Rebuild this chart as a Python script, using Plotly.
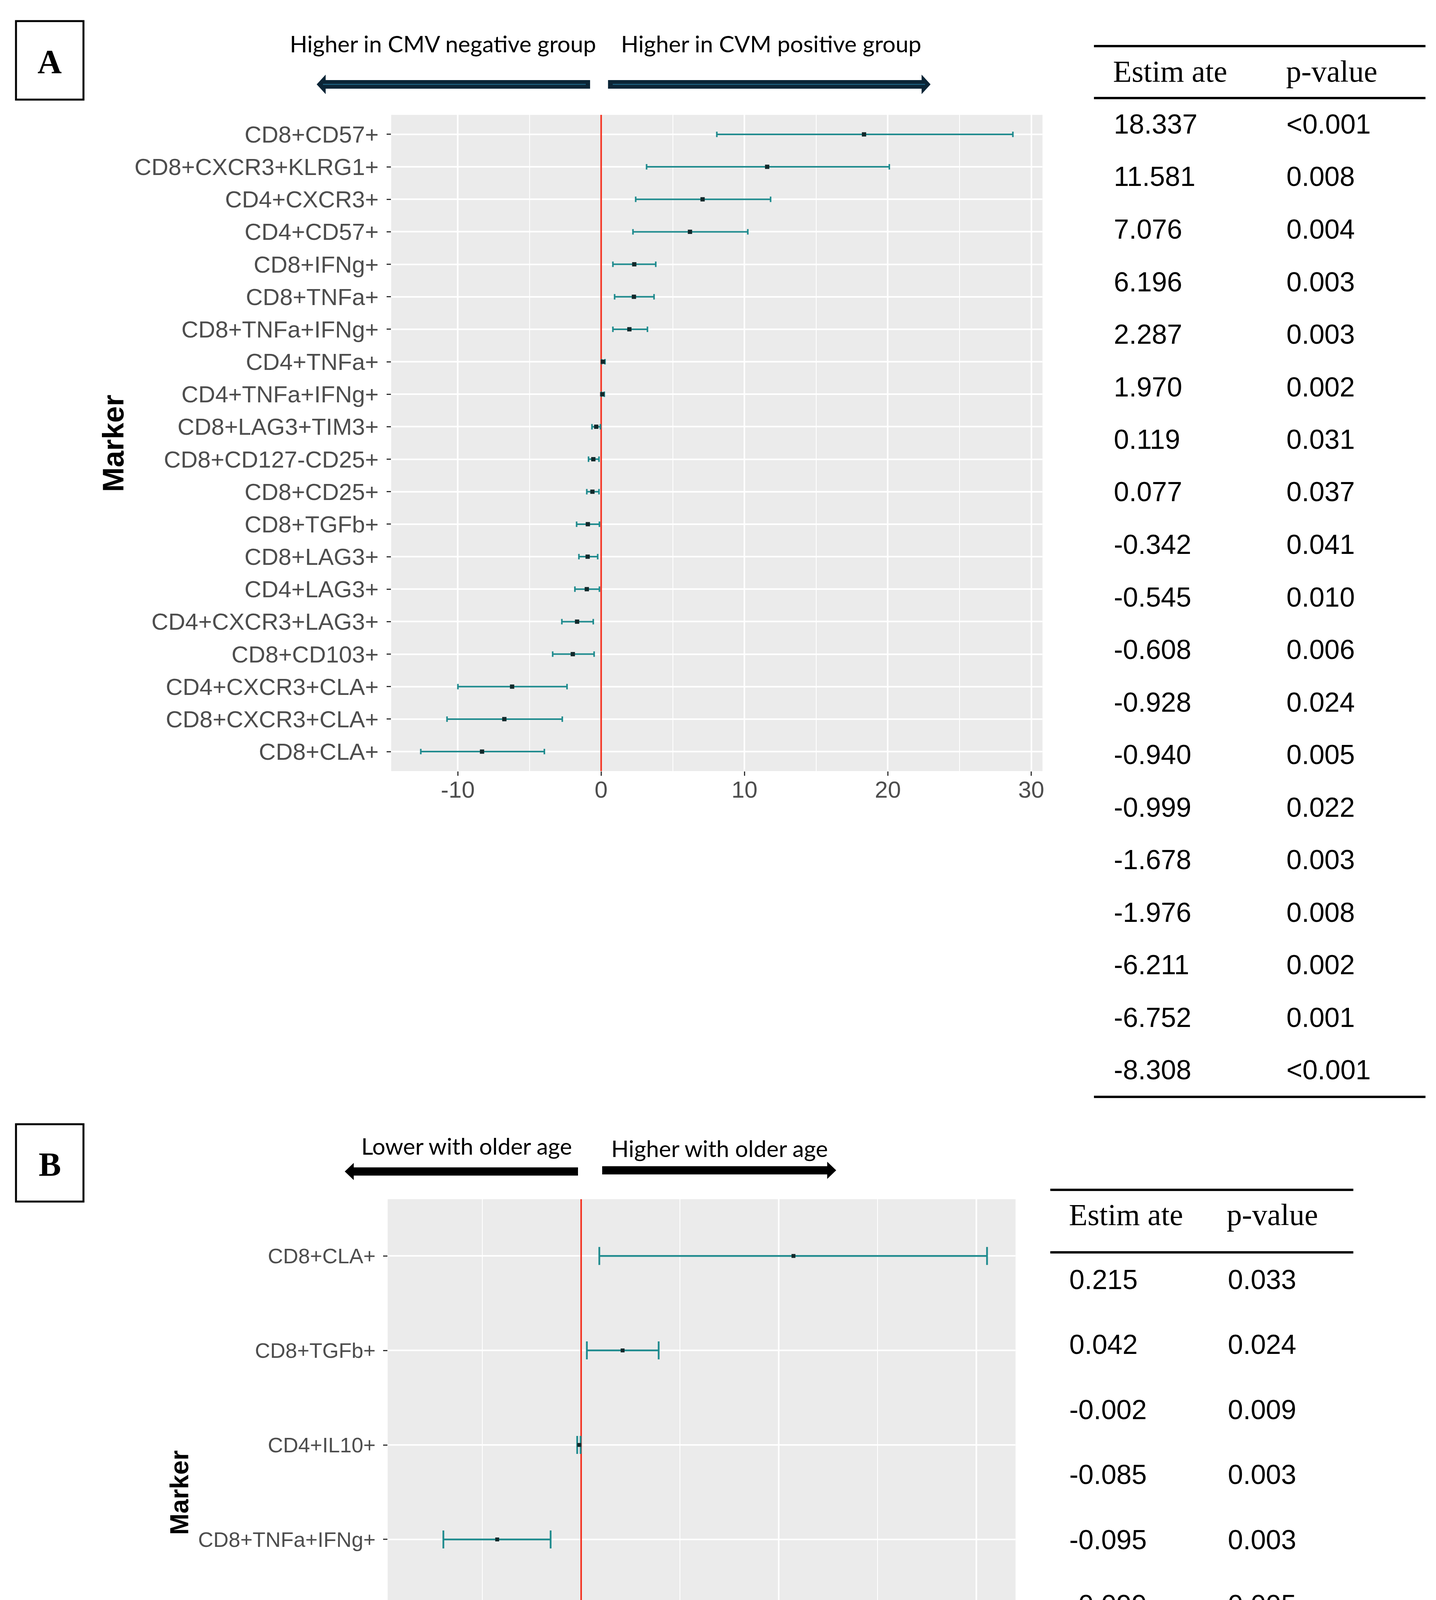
import plotly.graph_objects as go

# ---------------- data ----------------
markers_a = ["CD8+CD57+", "CD8+CXCR3+KLRG1+", "CD4+CXCR3+", "CD4+CD57+", "CD8+IFNg+",
             "CD8+TNFa+", "CD8+TNFa+IFNg+", "CD4+TNFa+", "CD4+TNFa+IFNg+", "CD8+LAG3+TIM3+",
             "CD8+CD127-CD25+", "CD8+CD25+", "CD8+TGFb+", "CD8+LAG3+", "CD4+LAG3+",
             "CD4+CXCR3+LAG3+", "CD8+CD103+", "CD4+CXCR3+CLA+", "CD8+CXCR3+CLA+", "CD8+CLA+"]
est_a = [18.337, 11.581, 7.076, 6.196, 2.31, 2.287, 1.970, 0.119, 0.077, -0.342,
         -0.545, -0.608, -0.928, -0.940, -0.999, -1.678, -1.976, -6.211, -6.752, -8.308]
lo_a = [8.07, 3.17, 2.41, 2.22, 0.82, 0.94, 0.82, 0.03, 0.02, -0.64,
        -0.88, -1.00, -1.71, -1.55, -1.83, -2.74, -3.38, -9.99, -10.75, -12.58]
hi_a = [28.72, 20.10, 11.82, 10.23, 3.81, 3.69, 3.23, 0.27, 0.22, -0.05,
        -0.15, -0.15, -0.12, -0.24, -0.12, -0.55, -0.49, -2.38, -2.71, -3.96]
xticks_a = [-10, 0, 10, 20, 30]
xticklabels_a = ["-10", "0", "10", "20", "30"]

table_a_est = ["18.337", "11.581", "7.076", "6.196", "2.287", "1.970", "0.119", "0.077",
               "-0.342", "-0.545", "-0.608", "-0.928", "-0.940", "-0.999", "-1.678",
               "-1.976", "-6.211", "-6.752", "-8.308"]
table_a_p = ["<0.001", "0.008", "0.004", "0.003", "0.003", "0.002", "0.031", "0.037",
             "0.041", "0.010", "0.006", "0.024", "0.005", "0.022", "0.003", "0.008",
             "0.002", "0.001", "<0.001"]

markers_b = ["CD8+CLA+", "CD8+TGFb+", "CD4+IL10+", "CD8+TNFa+IFNg+", "CD8+TNFa+", "CD8+IFNg+"]
est_b = [0.215, 0.042, -0.002, -0.085, -0.095, -0.099]
lo_b = [0.0184, 0.0058, -0.0040, -0.1395, -0.1570, -0.1670]
hi_b = [0.4110, 0.0785, -0.0005, -0.0309, -0.0334, -0.0313]
xticks_b = [0.0, 0.2, 0.4]
xticklabels_b = ["0.0", "0.2", "0.4"]

table_b_est = ["0.215", "0.042", "-0.002", "-0.085", "-0.095", "-0.099"]
table_b_p = ["0.033", "0.024", "0.009", "0.003", "0.003", "0.005"]

table_headers = ["Estim ate", "p-value"]
arrow_text_a = ["Higher in CMV negative group", "Higher in CVM positive group"]
arrow_text_b = ["Lower with older age", "Higher with older age"]
y_title = "Marker"
x_title_b = "Effect size and 95% CI"
panel_labels = ["A", "B"]

# ---------------- styling ----------------
W, H = 3677, 4795
DY_B = 0  # vertical offset of panel B
ERR = "#1f8b8e"
DOT = "#12292b"
RED = "#f4301e"
GRID_BG = "#EBEBEB"
TICK_TXT = "#4D4D4D"
SANS = "Liberation Sans, Arial, sans-serif"
SERIF = "Liberation Serif, Times New Roman, serif"
ARROW_FONT = "Lato, Liberation Sans, sans-serif"


def fx(x):
    return x / W


def fy(y):
    return 1 - y / H


def fyb(y):
    return fy(y + DY_B)


def expand(lo, hi, f=0.05):
    a, b = min(lo), max(hi)
    d = (b - a) * f
    return [a - d, b + d]


pos_a = list(range(len(markers_a)))
pos_b = list(range(len(markers_b)))
yr_a = [len(markers_a) - 0.4, -0.6]
yr_b = [len(markers_b) - 0.4, -0.6]

fig = go.Figure()

# zero reference lines (drawn first so the estimates sit on top)
fig.add_trace(go.Scatter(x=[0, 0], y=yr_a, mode="lines", xaxis="x", yaxis="y",
                         line=dict(color=RED, width=4), showlegend=False, hoverinfo="skip"))
fig.add_trace(go.Scatter(x=[0, 0], y=yr_b, mode="lines", xaxis="x2", yaxis="y2",
                         line=dict(color=RED, width=4), showlegend=False, hoverinfo="skip"))

fig.add_trace(go.Scatter(
    x=est_a, y=pos_a, mode="markers", xaxis="x", yaxis="y", showlegend=False,
    text=markers_a,
    marker=dict(symbol="square", size=11, color=DOT),
    error_x=dict(type="data", symmetric=False,
                 array=[h - e for h, e in zip(hi_a, est_a)],
                 arrayminus=[e - l for e, l in zip(est_a, lo_a)],
                 color=ERR, thickness=4, width=7),
))
fig.add_trace(go.Scatter(
    x=est_b, y=pos_b, mode="markers", xaxis="x2", yaxis="y2", showlegend=False,
    text=markers_b,
    marker=dict(symbol="square", size=10, color=DOT),
    error_x=dict(type="data", symmetric=False,
                 array=[h - e for h, e in zip(hi_b, est_b)],
                 arrayminus=[e - l for e, l in zip(est_b, lo_b)],
                 color=ERR, thickness=4.5, width=23),
))

common_x = dict(showgrid=True, gridcolor="white", gridwidth=4, zeroline=False, showline=False,
                ticks="outside", ticklen=11, tickwidth=3, tickcolor="#333333",
                ticklabelstandoff=-16, tickmode="array")
common_y = dict(showgrid=True, gridcolor="white", gridwidth=4, zeroline=False,
                showline=False, ticks="outside", ticklen=11, tickwidth=3, tickcolor="#333333",
                ticklabelstandoff=8, tickmode="array")

fig.update_layout(
    width=W, height=H, autosize=False,
    margin=dict(l=0, r=0, t=0, b=0),
    paper_bgcolor="white", plot_bgcolor=GRID_BG,
    xaxis=dict(domain=[fx(995), fx(2665)], anchor="y", range=expand(lo_a, hi_a),
               tickvals=xticks_a, ticktext=xticklabels_a,
               minor=dict(showgrid=True, gridcolor="white", gridwidth=2, tick0=0, dtick=5, ticks=""),
               tickfont=dict(family=SANS, size=60, color=TICK_TXT), **common_x),
    yaxis=dict(domain=[fy(1966), fy(286)], anchor="x", range=yr_a,
               tickvals=pos_a, ticktext=markers_a,
               tickfont=dict(family=SANS, size=60, color=TICK_TXT), **common_y),
    xaxis2=dict(domain=[fx(986), fx(2596)], anchor="y2", range=expand(lo_b, hi_b),
                tickvals=xticks_b, ticktext=xticklabels_b,
                minor=dict(showgrid=True, gridcolor="white", gridwidth=2, tick0=0, dtick=0.1, ticks=""),
                tickfont=dict(family=SANS, size=54, color=TICK_TXT), **common_x),
    yaxis2=dict(domain=[fyb(4562), fyb(3062)], anchor="x2", range=yr_b,
                tickvals=pos_b, ticktext=markers_b,
                tickfont=dict(family=SANS, size=54, color=TICK_TXT), **common_y),
)

shapes = []
annos = []

# panel label boxes
for lab, (x0, y0, x1, y1), f in zip(panel_labels, [(33, 46, 206, 247), (33, 2870, 206, 3068)], (fy, fyb)):
    shapes.append(dict(type="rect", xref="paper", yref="paper", x0=fx(x0), x1=fx(x1),
                       y0=f(y1), y1=f(y0), line=dict(color="black", width=5)))
    annos.append(dict(text="<b>" + lab + "</b>", xref="paper", yref="paper", x=fx((x0 + x1) / 2),
                      y=f((y0 + y1) / 2 + 4), xanchor="center", yanchor="middle",
                      showarrow=False, font=dict(family=SERIF, size=86, color="black")))


def arrow_path(tail, tip, cy, shaft_half, head_half, head_len, f):
    d = 1 if tip > tail else -1
    base = tip - d * head_len
    pts = [(tail, cy - shaft_half), (base, cy - shaft_half), (base, cy - head_half),
           (tip, cy), (base, cy + head_half), (base, cy + shaft_half), (tail, cy + shaft_half)]
    return "M " + " L ".join(f"{fx(x):.6f},{f(y):.6f}" for x, y in pts) + " Z"


# panel A arrows (dark navy with thin teal centre line)
for tail, tip in ((1505, 804), (1551, 2378)):
    shapes.append(dict(type="path", xref="paper", yref="paper",
                       path=arrow_path(tail, tip, 208, 11, 25, 23, fy),
                       fillcolor="#0b2536", line=dict(width=0)))
for x0, x1 in ((820, 1494), (1563, 2364)):
    shapes.append(dict(type="line", xref="paper", yref="paper", x0=fx(x0), x1=fx(x1),
                       y0=fy(208), y1=fy(208), line=dict(color="#1f6485", width=2.5)))
# panel B arrows (black)
for tail, tip, cy in ((1474, 876, 2991), (1536, 2136, 2988)):
    shapes.append(dict(type="path", xref="paper", yref="paper",
                       path=arrow_path(tail, tip, cy, 10.5, 22, 23, fyb),
                       fillcolor="black", line=dict(width=0)))

for txt, cx, cy in zip(arrow_text_a, (1128, 1969), (104, 104)):
    annos.append(dict(text=txt, xref="paper", yref="paper", x=fx(cx), y=fy(cy),
                      xanchor="center", yanchor="middle", showarrow=False,
                      font=dict(family=ARROW_FONT, size=59, color="black")))
for txt, cx, cy in zip(arrow_text_b, (1189, 1837), (2925, 2931)):
    annos.append(dict(text=txt, xref="paper", yref="paper", x=fx(cx), y=fyb(cy),
                      xanchor="center", yanchor="middle", showarrow=False,
                      font=dict(family=ARROW_FONT, size=59, color="black")))

# axis titles
annos.append(dict(text="<b>" + y_title + "</b>", xref="paper", yref="paper", x=fx(281), y=fy(1127),
                  textangle=-90, xanchor="center", yanchor="middle", showarrow=False,
                  font=dict(family=SANS, size=76, color="black")))
annos.append(dict(text="<b>" + y_title + "</b>", xref="paper", yref="paper", x=fx(452), y=fyb(3813),
                  textangle=-90, xanchor="center", yanchor="middle", showarrow=False,
                  font=dict(family=SANS, size=66, color="black")))
annos.append(dict(text="<b>" + x_title_b + "</b>", xref="paper", yref="paper", x=fx(1682), y=fyb(4731),
                  xanchor="center", yanchor="middle", showarrow=False,
                  font=dict(family=SERIF, size=62, color="black")))


def add_table(est, pv, x_l, x_r, y_top, y_hline, y_bot, y_head, y_row0, dy, cx_est, cx_p,
              hx_est, hx_p, f):
    for yy in (y_top, y_hline, y_bot):
        shapes.append(dict(type="line", xref="paper", yref="paper", x0=fx(x_l), x1=fx(x_r),
                           y0=f(yy), y1=f(yy), line=dict(color="black", width=6)))
    for txt, hx in zip(table_headers, (hx_est, hx_p)):
        annos.append(dict(text=txt, xref="paper", yref="paper", x=fx(hx), y=f(y_head),
                          xanchor="left", yanchor="middle", showarrow=False,
                          font=dict(family=SERIF, size=78, color="black")))
    for i, (e, p) in enumerate(zip(est, pv)):
        yy = y_row0 + i * dy
        annos.append(dict(text=e, xref="paper", yref="paper", x=fx(cx_est), y=f(yy),
                          xanchor="left", yanchor="middle", showarrow=False,
                          font=dict(family=SANS, size=70, color="black")))
        annos.append(dict(text=p.replace("<", "&lt;"), xref="paper", yref="paper", x=fx(cx_p),
                          y=f(yy), xanchor="left", yanchor="middle", showarrow=False,
                          font=dict(family=SANS, size=70, color="black")))


add_table(table_a_est, table_a_p, 2797, 3647, 110, 243, 2800, 174, 310, 134.5,
          2846, 3288, 2844, 3287, fy)
add_table(table_b_est, table_b_p, 2685, 3462, 3038, 3198, 4199, 3101, 3268, 166.4,
          2732, 3138, 2731, 3135, fyb)

fig.update_layout(shapes=shapes, annotations=annos)
fig.write_html("out.html")
